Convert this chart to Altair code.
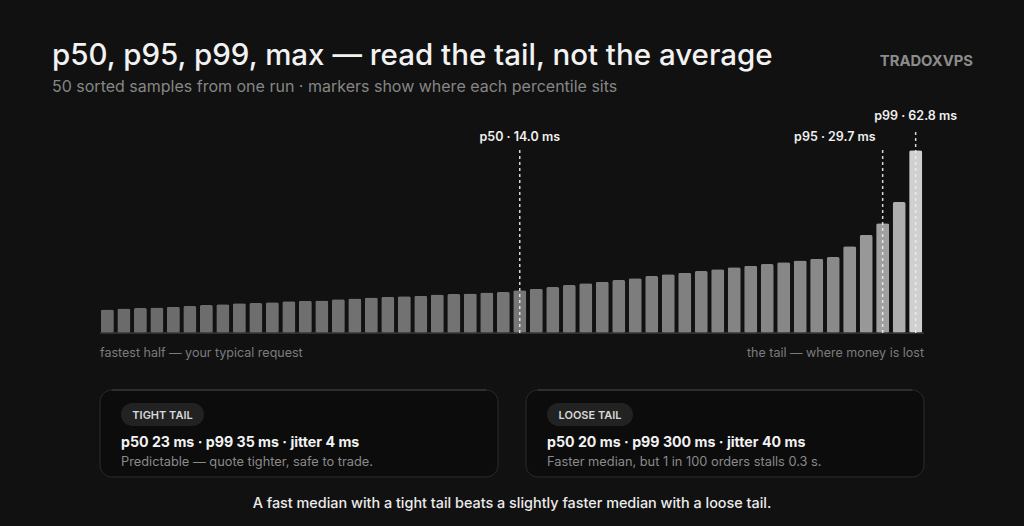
import altair as alt
import pandas as pd

# ---------------- data ----------------
latency_ms = [8.1, 8.4, 8.6, 8.8, 9.0, 9.3, 9.6, 9.9, 10.2, 10.3,
              10.6, 10.9, 11.1, 11.2, 11.6, 11.9, 12.2, 12.4, 12.6, 12.8,
              13.2, 13.4, 13.6, 13.9, 14.1, 14.7, 15.2, 15.8, 16.5, 17.1,
              17.6, 18.2, 18.8, 19.6, 20.2, 20.7, 21.3, 21.9, 22.6, 23.1,
              23.7, 24.3, 24.9, 25.5, 26.1, 29.8, 33.7, 37.7, 45.0, 62.8]
sample_index = list(range(len(latency_ms)))

marker_names = ["p50", "p95", "p99"]
marker_index = [25, 47, 49]
marker_labels = ["p50 · 14.0 ms", "p95 · 29.7 ms", "p99 · 62.8 ms"]

title_text = "p50, p95, p99, max — read the tail, not the average"
subtitle_text = "50 sorted samples from one run · markers show where each percentile sits"
brand_text = "TRADOXVPS"
left_note = "fastest half — your typical request"
right_note = "the tail — where money is lost"
card_tags = ["TIGHT TAIL", "LOOSE TAIL"]
card_stats = ["p50 23 ms · p99 35 ms · jitter 4 ms", "p50 20 ms · p99 300 ms · jitter 40 ms"]
card_notes = ["Predictable — quote tighter, safe to trade.", "Faster median, but 1 in 100 orders stalls 0.3 s."]
footer_text = "A fast median with a tight tail beats a slightly faster median with a loose tail."

# ---------------- frames ----------------
bars_df = pd.DataFrame({"idx": sample_index, "v": latency_ms})
markers_df = pd.DataFrame({"name": marker_names, "idx": marker_index, "label": marker_labels})

FONT = "Inter"
BG = "#111111"

xs = alt.Scale(domain=sample_index, range=[100, 923], paddingInner=0.21, paddingOuter=0.05)
ys = alt.Scale(domain=[0, 62.8], range=[333, 150.3], nice=False, zero=True)


def text_layer(t, x, y, size, color, weight=400, align="left", baseline="alphabetic"):
    return alt.Chart(pd.DataFrame({"t": [t]})).mark_text(
        align=align, baseline=baseline, fontSize=size, fontWeight=weight,
        color=color, font=FONT
    ).encode(x=alt.value(x), y=alt.value(y), text="t:N")


def rect_layer(x, x2, y, y2, fill, stroke=None, radius=0):
    kw = dict(fill=fill, cornerRadius=radius)
    if stroke:
        kw.update(stroke=stroke, strokeWidth=1)
    return alt.Chart(pd.DataFrame({"a": [0]})).mark_rect(**kw).encode(
        x=alt.value(x), x2=alt.value(x2), y=alt.value(y), y2=alt.value(y2)
    )


bars = alt.Chart(bars_df).mark_bar(cornerRadius=2).encode(
    x=alt.X("idx:O", scale=xs, axis=None),
    y=alt.Y("v:Q", scale=ys, axis=None),
    color=alt.Color("v:Q", scale=alt.Scale(domain=[8, 62.8], range=["#6a6a6a", "#d0d0d0"]), legend=None),
)

baseline = alt.Chart(pd.DataFrame({"a": [0]})).mark_rule(color="#3a3a3a", strokeWidth=1.5).encode(
    x=alt.value(100), x2=alt.value(924), y=alt.Y(datum=0, type="quantitative", scale=ys, axis=None)
)

rule_low = alt.Chart(markers_df).transform_filter(alt.datum.name != "p99").mark_rule(
    strokeDash=[3, 3], strokeWidth=1.5, color="#ececec", opacity=0.9
).encode(
    x=alt.X("idx:O", scale=xs, axis=None),
    y=alt.Y(datum=0, type="quantitative", scale=ys, axis=None),
    y2=alt.value(147),
)
rule_high = alt.Chart(markers_df).transform_filter(alt.datum.name == "p99").mark_rule(
    strokeDash=[3, 3], strokeWidth=1.5, color="#ececec", opacity=0.9
).encode(
    x=alt.X("idx:O", scale=xs, axis=None),
    y=alt.Y(datum=0, type="quantitative", scale=ys, axis=None),
    y2=alt.value(131),
)

lab_p50 = alt.Chart(markers_df).transform_filter(alt.datum.name == "p50").mark_text(
    align="center", baseline="alphabetic", fontSize=12.5, fontWeight=600, color="#f0f0f0", font=FONT
).encode(x=alt.X("idx:O", scale=xs, axis=None), y=alt.value(141), text="label:N")
lab_p95 = alt.Chart(markers_df).transform_filter(alt.datum.name == "p95").mark_text(
    align="right", baseline="alphabetic", fontSize=12.5, fontWeight=600, color="#f0f0f0", font=FONT, dx=-7
).encode(x=alt.X("idx:O", scale=xs, axis=None), y=alt.value(141), text="label:N")
lab_p99 = alt.Chart(markers_df).transform_filter(alt.datum.name == "p99").mark_text(
    align="center", baseline="alphabetic", fontSize=12.5, fontWeight=600, color="#f0f0f0", font=FONT
).encode(x=alt.X("idx:O", scale=xs, axis=None), y=alt.value(120), text="label:N")

layers = [
    text_layer(title_text, 52, 65, 29.5, "#f2f2f2", 500),
    text_layer(subtitle_text, 52, 92, 16, "#868686", 400),
    text_layer(brand_text, 973, 66, 14.8, "#8c8c8c", 700, align="right"),
    bars, baseline, rule_low, rule_high, lab_p50, lab_p95, lab_p99,
    text_layer(left_note, 100, 357, 12.5, "#7c7c7c", 400),
    text_layer(right_note, 924, 357, 12.5, "#7c7c7c", 400, align="right"),
]

card_x = [(100, 498), (526, 924)]
for i, (x0, x1) in enumerate(card_x):
    layers.append(rect_layer(x0, x1, 390, 477, "#0c0c0c", "#2c2c2c", 12))
    layers.append(alt.Chart(pd.DataFrame({"a": [0]})).mark_rule(color="#404040", strokeWidth=1).encode(
        x=alt.value(x0 + 12), x2=alt.value(x1 - 12), y=alt.value(390)))
    pill_w = 86 if i == 1 else 83
    px = x0 + 21
    layers.append(rect_layer(px, px + pill_w, 403, 426, "#222222", None, 11.5))
    layers.append(text_layer(card_tags[i], px + pill_w / 2, 419, 11, "#d8d8d8", 600, align="center"))
    layers.append(text_layer(card_stats[i], px, 447, 14.2, "#f2f2f2", 700))
    layers.append(text_layer(card_notes[i], px, 466, 12.8, "#8a8a8a", 400))

layers.append(text_layer(footer_text, 512, 508, 14.4, "#ececec", 500, align="center"))

chart = alt.layer(*layers).properties(
    width=1024, height=526, background=BG, padding=0,
    autosize=alt.AutoSizeParams(type="none"),
).configure_view(stroke=None)

chart.save("out.html", embed_options={"renderer": "svg", "actions": False})
